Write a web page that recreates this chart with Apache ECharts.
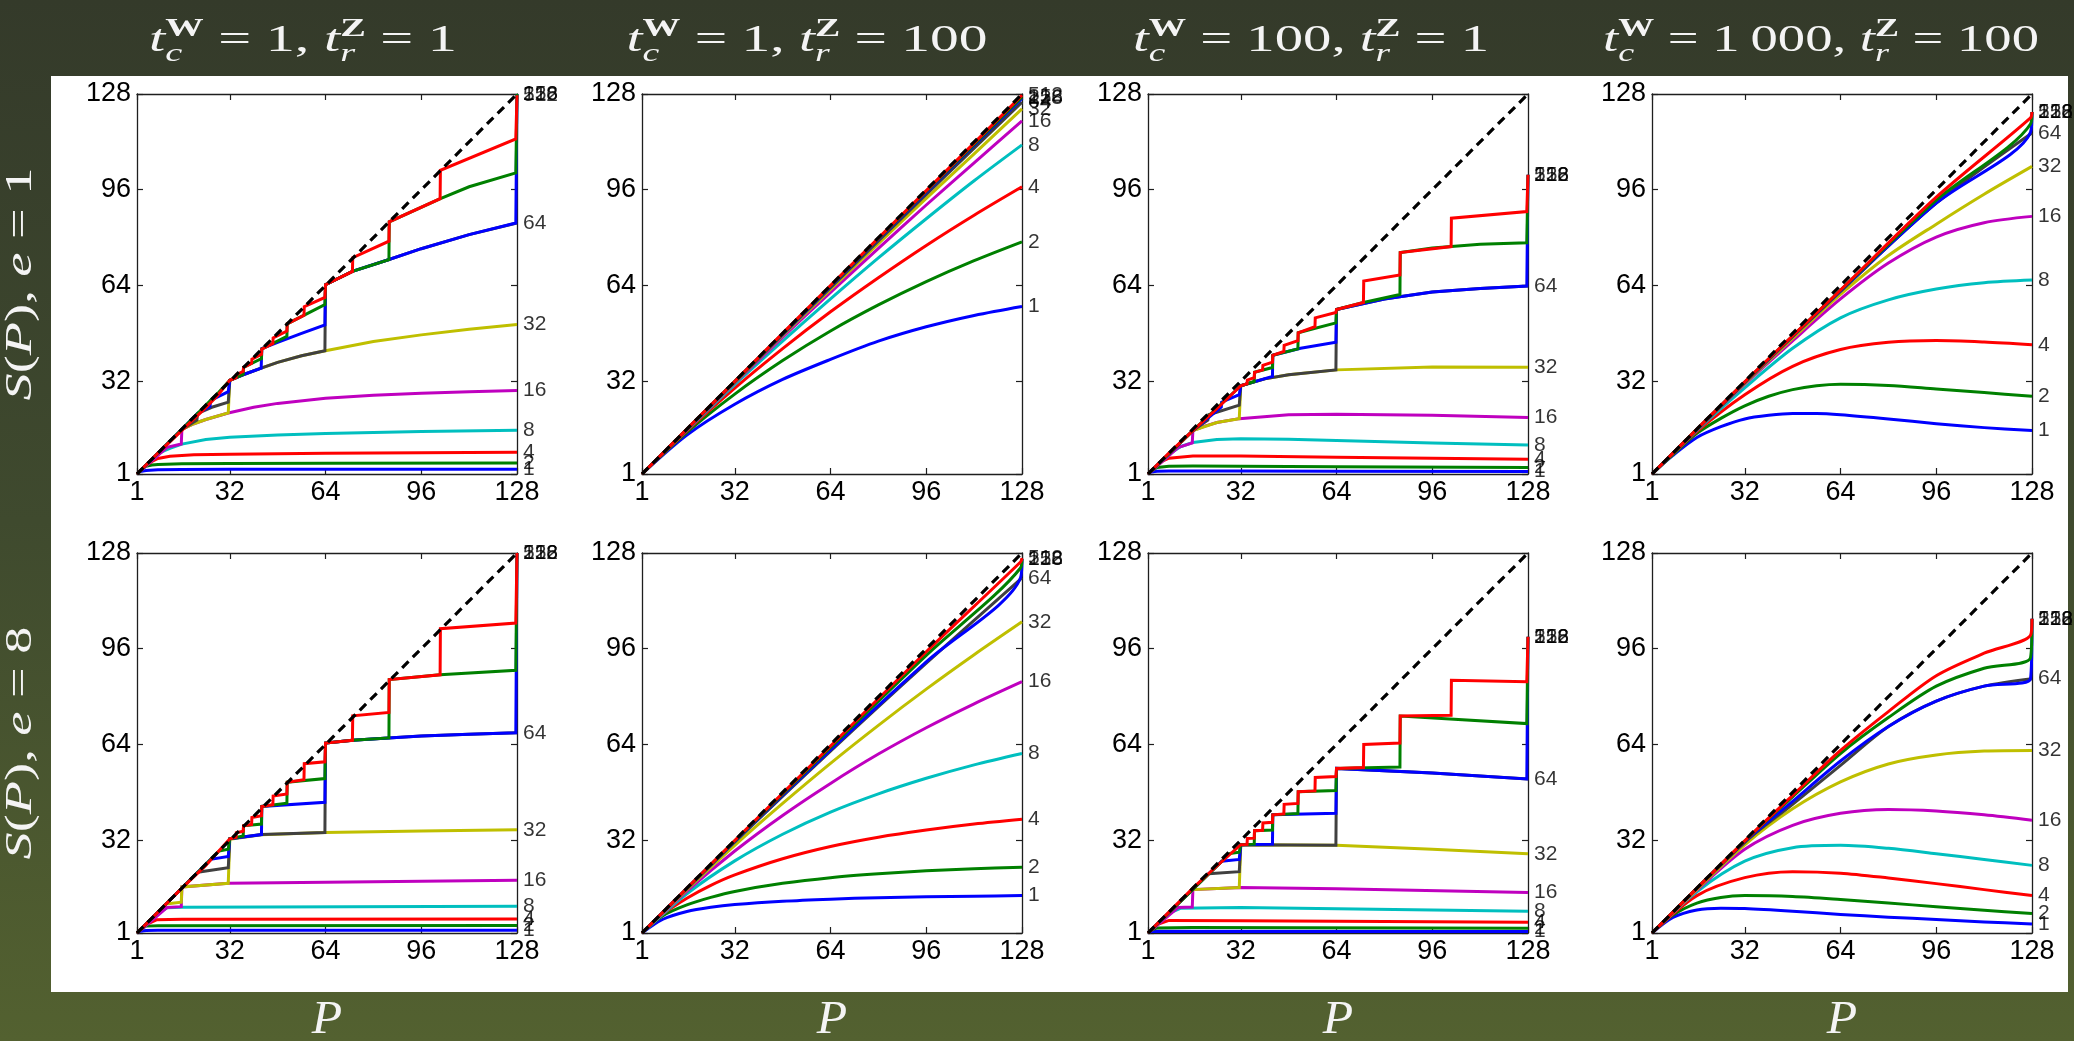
<!DOCTYPE html>
<html><head><meta charset="utf-8">
<script src="https://cdn.jsdelivr.net/npm/echarts@6/dist/echarts.min.js"></script>
<style>
html,body{margin:0;padding:0;}
#c{width:2074px;height:1041px;background:linear-gradient(180deg,#343a2a 0%,#3f4a2e 50%,#536130 100%);}
</style>
</head><body><div id="c"></div>
<script>
// ---------- tick labels, categories ----------
const TICKS = [1, 32, 64, 96, 128];
const N_LABELS = ['1','2','4','8','16','32','64','128','256','512'];
const TW = ['1', '1', '100', '1\u2009000'];
const TZ = ['1', '100', '1', '100'];
const EVALS = ['1', '8'];

// ---------- series values: each panel = list of 10 curves (n = 1 ... 512), points [P, S] ----------
const S11 = [
 [[1,1],[2,1.8],[4,2.2],[8,2.4],[16,2.5],[32,2.55],[64,2.6],[128,2.6]],
 [[1,1],[2,1.9],[3,2.9],[4,3.6],[6,4.0],[8,4.2],[16,4.4],[32,4.5],[64,4.6],[128,4.7]],
 [[1,1],[4,3.8],[6,5.2],[8,6.2],[12,6.9],[20,7.4],[32,7.6],[64,7.9],[96,8.1],[128,8.3]],
 [[1,1],[8,7.7],[10,8.7],[12,9.6],[16,11],[24,12.5],[32,13.3],[48,14],[64,14.5],[96,15.2],[128,15.6]],
 [[1,1],[11,9.9],[15.8,11],[16,15.9],[20,17.8],[24,19.2],[31.5,21.4],[40,23.3],[48,24.6],[64,26.3],[80,27.3],[96,28],[112,28.5],[128,28.9]],
 [[1,1],[16,15.9],[20,17.8],[24,19.2],[31.5,21.4],[32,32.3],[36,34],[42.5,36.4],[48,38.3],[56,40.5],[64,42.2],[80,45.3],[96,47.5],[112,49.4],[128,51]],
 [[1,1],[16,15.9],[21,19],[21.3,21.3],[26,23.3],[31.5,25],[32,32.3],[36,34],[42.5,36.4],[48,38.3],[56,40.5],[63.8,42.2],[64,64.3],[73,68.7],[85,72.6],[96,76.3],[112,81],[128,84.9]],
 [[1,1],[16,15.9],[21.3,21.3],[25.4,23.5],[25.6,25.6],[31.5,28.5],[32,32.3],[36,34],[42.5,36.4],[42.7,42.9],[48,45],[56,48],[63.8,50.8],[64,64.3],[73,68.7],[85,72.6],[96,76.3],[112,81],[127.6,84.9],[128,128]],
 [[1,1],[16,15.9],[21.3,21.3],[25.6,25.6],[28.4,28.4],[32,32.3],[36.5,34.3],[36.6,36.6],[42.6,39.6],[42.7,42.8],[51.1,47],[51.2,51.2],[63.8,57.6],[64,64.3],[73,68.7],[85.2,72.6],[85.3,85.3],[102.4,93],[112,97],[127.6,101.6],[128,128]],
 [[1,1],[8,8],[16,15.6],[24,23.2],[28,27.3],[32,32.3],[34.1,33.2],[34.2,34.2],[36.5,35.3],[36.6,36.6],[39.3,38],[39.4,39.4],[42.6,41],[42.7,42.7],[46.4,44.6],[46.5,46.5],[51.1,48.8],[51.2,51.2],[56.8,54],[56.9,56.9],[63.8,60],[64,64.3],[73,68.7],[73.1,73.3],[85.2,78.8],[85.3,85.3],[102.3,93],[102.4,102.5],[127.6,113],[128,127.6]]
];
const S12 = [
 [[1,1],[16,14],[32,24.3],[48,32.6],[64,39.3],[80,45.4],[96,50.2],[112,54],[128,57]],
 [[1,1],[16,14.9],[32,27.7],[48,38.9],[64,48.8],[80,57.5],[96,65.3],[112,72.3],[128,78.6]],
 [[1,1],[16,15.4],[32,29.7],[48,42.9],[64,55.2],[80,66.6],[96,77.4],[112,87.5],[128,97]],
 [[1,1],[16,15.7],[32,30.9],[48,45.4],[64,59.5],[80,73.2],[96,86.3],[112,99],[128,111]],
 [[1,1],[16,15.9],[32,31.4],[48,46.7],[64,61.7],[80,76.4],[96,90.9],[112,105],[128,119]],
 [[1,1],[16,15.95],[32,31.7],[48,47.3],[64,62.7],[80,78],[96,93.1],[112,108],[128,123]],
 [[1,1],[32,31.8],[64,63.3],[96,94.4],[128,125.3]],
 [[1,1],[32,31.9],[64,63.6],[96,95.1],[128,126.5]],
 [[1,1],[32,31.95],[64,63.8],[96,95.4],[128,127]],
 [[1,1],[32,32],[64,64],[96,95.7],[128,127.6]]
];
const S13 = [
 [[1,1],[2,1.7],[4,1.95],[8,2],[32,2],[64,1.9],[128,1.8]],
 [[1,1],[2,1.9],[4,3.2],[8,3.6],[16,3.7],[32,3.6],[64,3.4],[128,3.2]],
 [[1,1],[4,3.8],[6,5.4],[8,6.3],[16,7],[32,7],[64,6.6],[128,5.9]],
 [[1,1],[8,7.6],[12,10.2],[16,11.5],[24,12.5],[32,12.8],[48,12.6],[64,12.2],[96,11.4],[128,10.7]],
 [[1,1],[11,9.8],[15.8,11.4],[16,15.5],[20,17],[24,18.2],[31.5,19.5],[48,20.8],[64,21],[96,20.6],[128,19.9]],
 [[1,1],[16,15.5],[24,18.2],[31.5,19.5],[32,30.5],[40,32.8],[48,34.2],[64,35.8],[96,36.8],[128,36.7]],
 [[1,1],[16,15.5],[21,19],[21.3,20.8],[31.5,24],[32,30.5],[40,32.8],[48,34.2],[63.8,35.8],[64,56],[80,59.5],[96,61.8],[112,63],[128,63.8]],
 [[1,1],[16,15.5],[25.5,23.4],[25.6,25],[31.5,27.5],[32,30.5],[42.6,33.6],[42.7,40.7],[52,43],[63.8,45],[64,56],[80,59.5],[96,61.8],[112,63],[127.6,63.8],[128,101]],
 [[1,1],[16,15.5],[32,30.5],[36.5,31.9],[36.6,35],[42.6,36.6],[42.7,40.7],[51.1,42.8],[51.2,48.2],[63.8,51.5],[64,56],[73,58.3],[85.2,61],[85.3,75],[96,76.5],[112,77.8],[127.6,78.3],[128,101]],
 [[1,1],[8,8],[16,15.5],[24,22.8],[32,30.5],[34.1,31.2],[34.2,32.4],[36.5,33.2],[36.6,35],[39.3,35.8],[39.4,37.3],[42.6,38.4],[42.7,40.7],[46.4,42],[46.5,44],[51.1,45.6],[51.2,48.2],[56.8,50.2],[56.9,53.2],[63.8,55],[64,56],[73,58.3],[73.1,65.5],[85.2,67.5],[85.3,75],[102.3,77],[102.4,86.5],[127.6,88.7],[128,101]]
];
const S14 = [
 [[1,1],[8,7.2],[16,13.2],[24,16.8],[32,19.4],[40,20.6],[48,21.2],[56,21.2],[64,20.8],[80,19.4],[96,17.8],[112,16.5],[128,15.5]],
 [[1,1],[8,7.5],[16,14.6],[24,19.6],[32,23.8],[40,27],[48,29.2],[56,30.5],[64,31],[80,30.6],[96,29.4],[112,28.2],[128,27]],
 [[1,1],[16,15.2],[32,27.5],[48,37],[64,42.6],[80,45],[96,45.6],[112,45.1],[128,44.2]],
 [[1,1],[16,15.6],[32,29.8],[48,43],[64,53.2],[80,59.2],[96,62.8],[112,64.9],[128,65.8]],
 [[1,1],[16,15.8],[32,31],[48,45.5],[64,59.5],[80,71.5],[96,80.2],[112,85],[128,87.1]],
 [[1,1],[16,15.9],[32,31.3],[48,46.3],[64,61],[80,74],[96,84.5],[112,94.5],[128,103.8]],
 [[1,1],[32,31.5],[64,62],[96,91.5],[128,115]],
 [[1,1],[32,31.6],[64,62.2],[96,91.5],[127.5,115.2],[128,122]],
 [[1,1],[32,31.7],[64,62.4],[96,92.5],[127.5,118],[128,122]],
 [[1,1],[32,31.8],[64,62.5],[96,93.5],[127.5,120],[128,122]]
];
const S21 = [
 [[1,1],[2,1.6],[4,1.85],[8,1.9],[128,1.9]],
 [[1,1],[2,1.9],[4,3.3],[8,3.45],[128,3.5]],
 [[1,1],[4,3.8],[7.5,5.4],[16,5.6],[128,5.7]],
 [[1,1],[8,7.8],[11,9.4],[16,9.6],[128,9.9]],
 [[1,1],[11,9.5],[15.8,9.8],[16,16.4],[31.5,17.6],[64,18],[128,18.6]],
 [[1,1],[10.7,10.7],[15.8,11.3],[16,16.4],[31.5,17.6],[32,32.3],[42.6,33.8],[63.8,34.6],[96,35.1],[128,35.5]],
 [[1,1],[21.3,21.3],[31.5,22.8],[32,32.5],[42.6,33.9],[63.8,34.6],[64,64.5],[73,65.4],[85,66.2],[96,66.8],[112,67.4],[128,67.9]],
 [[1,1],[25.6,25.6],[31.5,26.6],[32,32.5],[42.6,33.9],[42.7,43.3],[63.8,44.7],[64,64.5],[73,65.4],[85,66.2],[96,66.8],[112,67.4],[127.6,67.9],[128,128]],
 [[1,1],[28.4,28.4],[31.5,29],[32,32.5],[36.5,33.4],[36.6,36.8],[42.6,37.4],[42.7,43.3],[51.1,44.4],[51.2,51.4],[63.8,52.6],[64,64.5],[73,65.4],[85.2,66.2],[85.3,85.7],[102.3,87.3],[127.6,88.8],[128,128]],
 [[1,1],[16,16],[24,23.6],[32,32.5],[34.1,33],[34.2,34.5],[36.5,35],[36.6,36.8],[39.3,37.3],[39.4,39.6],[42.6,40.2],[42.7,43.3],[46.4,43.9],[46.5,46.8],[51.1,47.5],[51.2,51.4],[56.8,52.2],[56.9,57.6],[63.8,58.2],[64,64.5],[73,65.4],[73.1,73.6],[85.2,74.7],[85.3,85.7],[102.3,87.3],[102.4,102.7],[127.6,104.6],[128,128]]
];
const S22 = [
 [[1,1],[8,5.6],[16,8.2],[24,9.6],[32,10.5],[48,11.6],[64,12.3],[80,12.8],[96,13.1],[112,13.3],[128,13.5]],
 [[1,1],[8,6.8],[16,10.4],[24,12.9],[32,14.9],[48,17.6],[64,19.5],[80,20.8],[96,21.8],[112,22.5],[128,23]],
 [[1,1],[8,7.3],[16,12.6],[24,16.9],[32,20.4],[48,25.8],[64,29.9],[80,33],[96,35.4],[112,37.4],[128,39]],
 [[1,1],[16,14.1],[32,25.1],[48,34],[64,41.4],[80,47.5],[96,52.7],[112,57.2],[128,61]],
 [[1,1],[16,15],[32,28.4],[48,40.3],[64,51],[80,60.8],[96,69.6],[112,77.6],[128,85]],
 [[1,1],[16,15.5],[32,30.3],[48,44.3],[64,57.7],[80,70.4],[96,82.5],[112,94],[128,105]],
 [[1,1],[32,31.4],[64,61.8],[96,91.2],[128,119.7]],
 [[1,1],[32,31.6],[64,62.2],[96,91.6],[127.5,119.7],[128,126]],
 [[1,1],[32,31.8],[64,63],[96,93.8],[127.5,123],[128,126]],
 [[1,1],[32,31.9],[64,63.5],[96,95],[127.5,125],[128,126.3]]
];
const S23 = [
 [[1,1],[2,1.5],[4,1.6],[128,1.5]],
 [[1,1],[2,1.9],[4,2.7],[16,2.8],[128,2.6]],
 [[1,1],[4,3.8],[8,5.2],[32,5.1],[128,4.6]],
 [[1,1],[8,7.6],[12,9.3],[32,9.5],[64,9.1],[128,8.3]],
 [[1,1],[11,9.5],[15.8,9.7],[16,15.5],[32,16.2],[64,15.8],[128,14.5]],
 [[1,1],[16,15.5],[31.5,16.2],[32,30.5],[64,30.3],[96,29],[128,27.5]],
 [[1,1],[21.3,20.8],[31.5,21.5],[32,30.5],[63.8,30.3],[64,56],[96,54.5],[128,52.5]],
 [[1,1],[25.6,25],[31.5,25.6],[32,30.5],[42.6,30.7],[42.7,40.5],[63.8,41],[64,56],[96,54.5],[127.6,52.5],[128,100]],
 [[1,1],[28.4,27.6],[31.5,28],[32,30.5],[36.5,30.7],[36.6,35.2],[42.6,35.4],[42.7,40.5],[51.1,40.9],[51.2,48.2],[63.8,48.6],[64,56],[85.2,56.5],[85.3,73.5],[127.6,71],[128,100]],
 [[1,1],[16,16],[24,23.4],[32,30.5],[34.1,30.6],[34.2,32.6],[36.5,32.7],[36.6,35.2],[39.3,35.3],[39.4,37.8],[42.6,38],[42.7,40.5],[46.4,40.8],[46.5,44],[51.1,44.3],[51.2,48.2],[56.8,48.5],[56.9,53],[63.8,53.3],[64,56],[73,56.3],[73.1,64],[85.2,64.5],[85.3,73.5],[102.3,73.8],[102.4,85.5],[127.6,85],[128,100]]
];
const S24 = [
 [[1,1],[8,6.2],[16,8.7],[24,9.3],[32,9.2],[48,8.3],[64,7.2],[80,6.3],[96,5.5],[112,4.7],[128,4]],
 [[1,1],[8,7],[16,11],[24,12.9],[32,13.5],[48,13.2],[64,12.2],[80,11],[96,9.8],[112,8.6],[128,7.5]],
 [[1,1],[16,13.5],[32,19.5],[48,21.5],[64,21],[80,19.4],[96,17.5],[112,15.5],[128,13.5]],
 [[1,1],[16,14.8],[32,25],[48,29.5],[64,30.3],[80,29.3],[96,27.5],[112,25.6],[128,23.6]],
 [[1,1],[16,15.3],[32,29],[48,37],[64,41],[80,42.3],[96,41.8],[112,40.5],[128,38.7]],
 [[1,1],[16,15.6],[32,30.5],[48,42.5],[64,51.5],[80,57.5],[96,60.5],[112,61.8],[128,62]],
 [[1,1],[32,31.3],[48,44],[64,57],[80,70],[96,78.5],[112,83.5],[128,86]],
 [[1,1],[32,31.5],[48,45],[64,58.5],[80,70],[96,78.5],[112,83.5],[127.5,86],[128,106]],
 [[1,1],[32,31.7],[48,46.5],[64,61],[80,73],[96,83.5],[112,89.5],[127.5,93],[128,106]],
 [[1,1],[32,31.8],[48,47],[64,62],[80,75],[96,87],[112,94.5],[127.5,100.5],[128,106]]
];
const DIAG = [[1,1],[128,128]];

// ---------- styles / layout ----------
const PANELS = [S11, S12, S13, S14, S21, S22, S23, S24];
const SMOOTH = [false, true, false, true, false, true, false, true];
const COLORS = ['#0000ff','#008000','#ff0000','#00bfbf','#bf00bf','#bfbf00','#404040'];
const LEFTS = [137, 642, 1148, 1652];
const TOPS = [94, 553];
const SIZE = 380;
const TITLE_X = [303, 807, 1311, 1821];
const TITLE_W = [308, 361, 356, 436];
const SANS = '"Liberation Sans", Arial, sans-serif';
const SERIF = '"Liberation Serif", "DejaVu Serif", serif';
const INK = '#f4f4f4';

const cv = document.createElement('canvas').getContext('2d');
function fnt(size, style, weight) { return (style || 'normal') + ' ' + (weight || 'normal') + ' ' + size + 'px ' + SERIF; }
function tw(t, f) { cv.font = f; return cv.measureText(t).width; }

// horizontal math title built from pieces, stretched to targetW (each element positioned absolutely)
function mathTitle(pieces, cx, cy, targetW) {
  let x = 0; const items = [];
  pieces.forEach(p => {
    const list = p.stack ? p.stack : [p];
    let w = 0;
    list.forEach(q => { items.push({x: x, q: q}); w = Math.max(w, tw(q.t, q.f)); });
    x += w;
  });
  const sx = targetW / x;
  return items.map(it => ({
    type:'text', x: cx + (it.x - x / 2) * sx, y: cy + (it.q.dy || 0), scaleX: sx, z:50, silent:true,
    style:{text: it.q.t, font: it.q.f, fill: INK, align:'left', verticalAlign:'middle'}
  }));
}

const M = 38, SC = 25;
function titlePieces(w, z) {
  return [
    {t:'t', f:fnt(M,'italic')},
    {stack:[{t:'W', f:fnt(SC,'normal','bold'), dy:-11},{t:'c', f:fnt(SC,'italic'), dy:13}]},
    {t:' = ' + w + ', ', f:fnt(M)},
    {t:'t', f:fnt(M,'italic')},
    {stack:[{t:'Z', f:fnt(SC,'normal','bold'), dy:-11},{t:'r', f:fnt(SC,'italic'), dy:13}]},
    {t:' = ' + z, f:fnt(M)}
  ];
}

const option = {
  animation:false, backgroundColor:'transparent',
  grid:[], xAxis:[], yAxis:[], series:[],
  graphic:[{type:'rect', shape:{x:51, y:76, width:2017, height:916}, style:{fill:'#ffffff'}, z:-10, silent:true}]
};

const axisLine = {show:true, onZero:false, lineStyle:{color:'#1e1e1e', width:1.3}};
function mkAxis(i, pos, labels) {
  return {
    gridIndex:i, type:'value', min:1, max:128, position:pos,
    axisLine:axisLine,
    axisTick:{show:true, inside:true, length:6, customValues:TICKS, lineStyle:{color:'#1e1e1e', width:1.2}},
    axisLabel:{show:labels, customValues:TICKS, color:'#000', fontSize:27, fontFamily:SANS,
      margin: pos === 'left' ? 6 : 5},
    splitLine:{show:false}, splitArea:{show:false}
  };
}

PANELS.forEach((curves, i) => {
  const r = Math.floor(i / 4), c = i % 4;
  option.grid.push({left:LEFTS[c], top:TOPS[r], width:SIZE, height:SIZE});
  option.xAxis.push(mkAxis(i, 'bottom', true));
  option.xAxis.push(mkAxis(i, 'top', false));
  option.yAxis.push(mkAxis(i, 'left', true));
  option.yAxis.push(mkAxis(i, 'right', false));
  const ax = {xAxisIndex:2*i, yAxisIndex:2*i};
  curves.forEach((pts, j) => {
    option.series.push(Object.assign({
      type:'line', data:pts, showSymbol:false, symbol:'none', clip:false, silent:true,
      smooth: SMOOTH[i] ? 0.3 : false,
      lineStyle:{width:3, color:COLORS[j % COLORS.length], join:'miter', cap:'butt'},
      itemStyle:{color:COLORS[j % COLORS.length]},
      emphasis:{disabled:true}, z:2
    }, ax));
  });
  option.series.push(Object.assign({
    type:'line', data:DIAG, showSymbol:false, symbol:'none', clip:false, silent:true,
    lineStyle:{width:3.2, color:'#000', type:[9,6]}, emphasis:{disabled:true}, z:3
  }, ax));
  option.series.push(Object.assign({
    type:'scatter', silent:true, symbolSize:0, z:4,
    data: curves.map((pts, j) => ({value: pts[pts.length - 1], name: N_LABELS[j]})),
    label:{show:true, position:'right', distance:6, formatter:p => p.name,
      color:'#000', fontSize:21, fontFamily:SANS},
    emphasis:{disabled:true}
  }, ax));
});

// column titles and bottom P labels
for (let c = 0; c < 4; c++) {
  const cx = LEFTS[c] + SIZE / 2;
  mathTitle(titlePieces(TW[c], TZ[c]), TITLE_X[c], 41, TITLE_W[c]).forEach(g => option.graphic.push(g));
  option.graphic.push({type:'text', x:cx, y:1021, scaleX:1.08, z:50, silent:true,
    style:{text:'P', font:fnt(46,'italic'), fill:INK, align:'center', verticalAlign:'middle'}});
}
// row labels (rich text, rotated, stretched along the text)
const RF = 38;
for (let r = 0; r < 2; r++) {
  option.graphic.push({
    type:'text', x:21, y:TOPS[r] + SIZE / 2, rotation:Math.PI / 2, scaleX:1.43, originX:0, originY:0, z:50, silent:true,
    style:{
      text:'{i|S}{u|(}{i|P}{u|), }{i|e}{u| = ' + EVALS[r] + '}',
      align:'center', verticalAlign:'middle', fill:INK,
      rich:{
        i:{fontStyle:'italic', fontSize:RF, fontFamily:SERIF, fill:INK, color:INK},
        u:{fontStyle:'normal', fontSize:RF, fontFamily:SERIF, fill:INK, color:INK}
      }
    }
  });
}

const chart = echarts.init(document.getElementById('c'), null, {renderer:'canvas', width:2074, height:1041});
chart.setOption(option);
</script>
</body></html>
